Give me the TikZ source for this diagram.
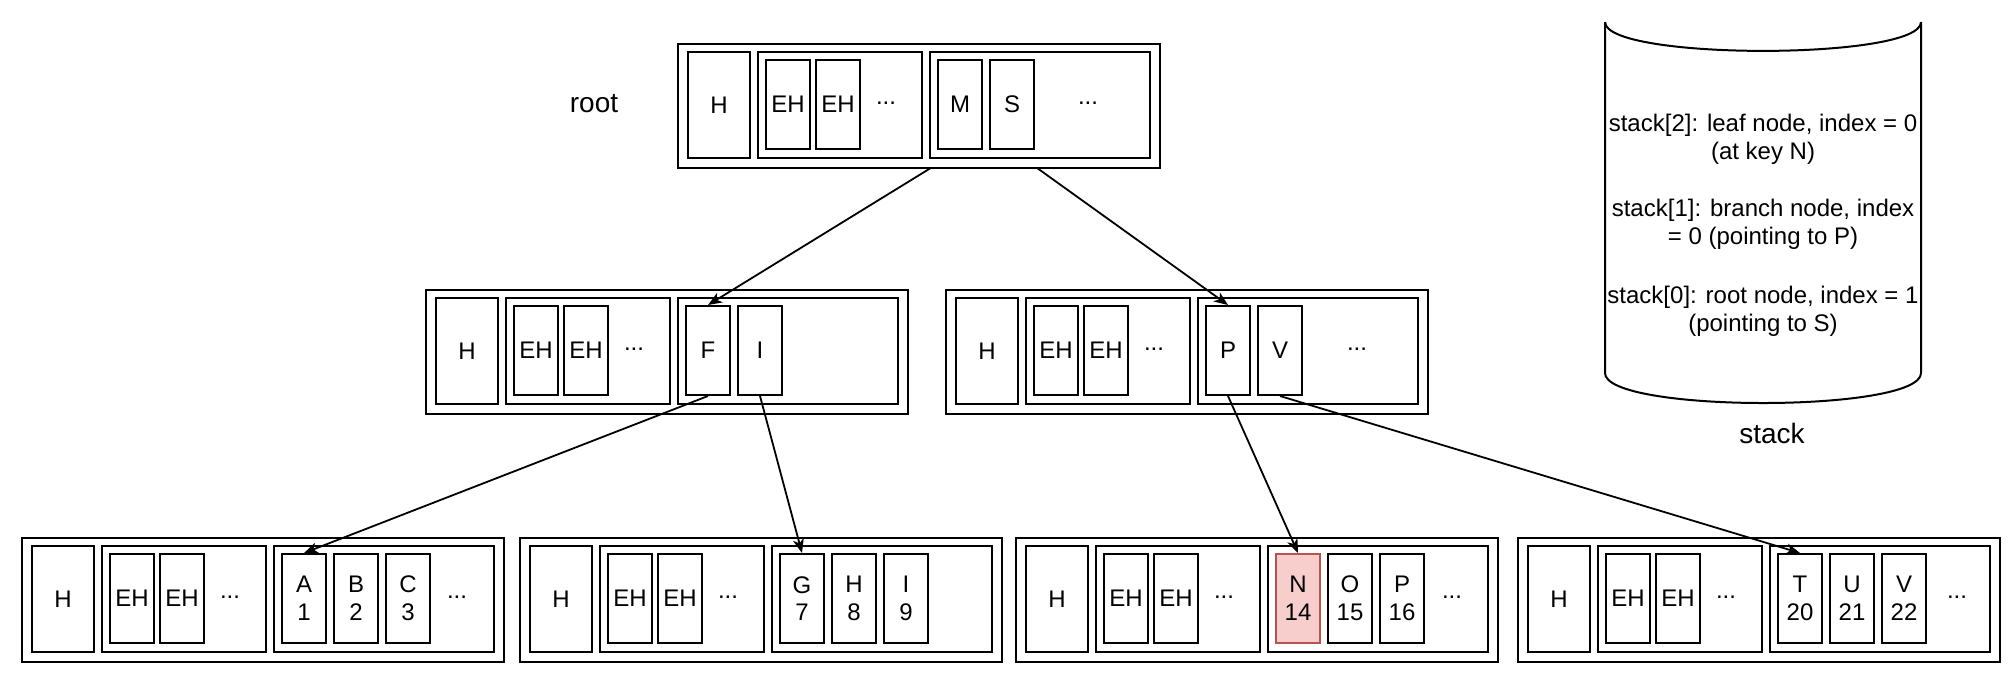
\documentclass[tikz,border=0pt]{standalone}
\usepackage{fontspec}
\setmainfont{Liberation Sans}
\usetikzlibrary{arrows.meta}
\pgfdeclarelayer{back}
\pgfdeclarelayer{bg}
\pgfsetlayers{back,bg,main}
\definecolor{hlfill}{HTML}{F8CECC}
\definecolor{hldraw}{HTML}{B85450}
\tikzset{
 every node/.style={font=\fontsize{12}{13.8}\selectfont},
 bx/.style={draw, line width=1pt, inner sep=0pt, anchor=north west},
 outerbox/.style={bx, minimum width=241pt, minimum height=62pt},
 hbox/.style={bx, minimum width=31pt, minimum height=53pt},
 cont/.style={bx, minimum height=53pt},
 cellbox/.style={bx, minimum width=22pt, minimum height=44.5pt, align=center},
 hot/.style={fill=hlfill, draw=hldraw},
 lbl/.style={inner sep=0pt},
 biglbl/.style={inner sep=0pt, font=\fontsize{14}{16}\selectfont},
 arr/.style={line width=0.9pt, -{Stealth[length=7pt,width=5.5pt,inset=2pt]}},
 cyl/.style={line width=1pt},
}
\newcommand\pg[4]{%
 \node[outerbox,#4] (#1) at (#2,#3) {};
 \node[hbox] (#1h) at ({#2+10},{#3+8}) {H};
 \node[cont, minimum width=82pt] (#1e) at ({#2+80},{#3+8}) {};
 \node[cellbox] (#1ea) at ({#2+88},{#3+16}) {EH};
 \node[cellbox] (#1eb) at ({#2+138},{#3+16}) {EH};
 \node[lbl, anchor=base] (#1ed) at ({#2+209},{#3+61.5}) {...};
 \node[cont, minimum width=110pt] (#1k) at ({#2+252},{#3+8}) {};
}
\newcommand\ky[6]{%
 \node[cellbox,#6] (#1) at ({#2+260+52*#4},{#3+16}) {#5};
}
\newcommand\kd[4]{%
 \node[lbl, anchor=base] (#1) at ({#2+#4},{#3+61.5}) {...};
}
\begin{document}
\begin{tikzpicture}[x=0.5pt,y=-0.5pt]
\useasboundingbox (0,0) rectangle (2012,682);
\begin{pgfonlayer}{back}
\fill[white] (0,0) rectangle (2012,682);
\end{pgfonlayer}

% root
\pg{r}{677}{43}{fill=white}
\ky{rM}{677}{43}{0}{M}{}
\ky{rS}{677}{43}{1}{S}{}
\kd{rkd}{677}{43}{411}
\node[biglbl] (rootlbl) at (594,104) {root};

% branches
\pg{bl}{425}{289}{}
\ky{bF}{425}{289}{0}{F}{}
\ky{bI}{425}{289}{1}{I}{}

\pg{br}{945}{289}{}
\ky{bP}{945}{289}{0}{P}{}
\ky{bV}{945}{289}{1}{V}{}
\kd{brkd}{945}{289}{412}

% leaves
\pg{la}{21}{537}{}
\ky{lA}{21}{537}{0}{A\\1}{}
\ky{lB}{21}{537}{1}{B\\2}{}
\ky{lC}{21}{537}{2}{C\\3}{}
\kd{lakd}{21}{537}{436}

\pg{lb}{519}{537}{}
\ky{lG}{519}{537}{0}{G\\7}{}
\ky{lH}{519}{537}{1}{H\\8}{}
\ky{lI}{519}{537}{2}{I\\9}{}

\pg{lc}{1015}{537}{}
\ky{lN}{1015}{537}{0}{N\\14}{hot}
\ky{lO}{1015}{537}{1}{O\\15}{}
\ky{lP}{1015}{537}{2}{P\\16}{}
\kd{lckd}{1015}{537}{437}

\pg{ld}{1517}{537}{}
\ky{lT}{1517}{537}{0}{T\\20}{}
\ky{lU}{1517}{537}{1}{U\\21}{}
\ky{lV}{1517}{537}{2}{V\\22}{}
\kd{ldkd}{1517}{537}{440}

% connectors
\begin{pgfonlayer}{bg}
\draw[arr] (rM.south) -- (bF.north);
\draw[arr] (rS.south) -- (bP.north);
\draw[arr] (bF.south) -- (lA.north);
\draw[arr] (bI.south) -- (lG.north);
\draw[arr] (bP.south) -- (lN.north);
\draw[arr] (bV.south) -- (lT.north);
\end{pgfonlayer}

% stack cylinder
\draw[cyl] (1605,22) -- (1605,373) .. controls (1605,413) and (1921,413) .. (1921,373) -- (1921,22);
\draw[cyl] (1605,22) .. controls (1605,60.5) and (1921,60.5) .. (1921,22);
\node[lbl, align=center] (s2) at (1763,139) {stack[2]: leaf node, index = 0\\(at key N)};
\node[lbl, align=center] (s1) at (1763,224.5) {stack[1]: branch node, index\\= 0 (pointing to P)};
\node[lbl, align=center] (s0) at (1763,311) {stack[0]: root node, index = 1\\(pointing to S)};
\node[biglbl] (stacklbl) at (1772,433) {stack};
\end{tikzpicture}
\end{document}
